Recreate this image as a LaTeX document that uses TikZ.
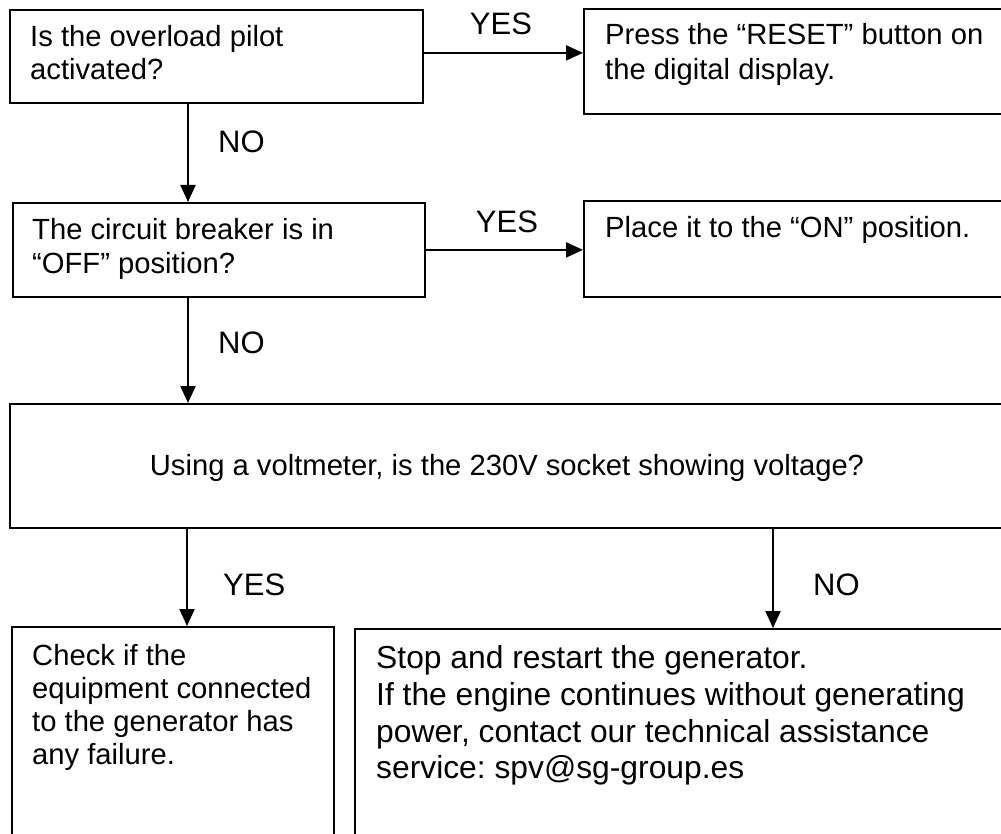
\documentclass[tikz,border=0pt]{standalone}
\usepackage{fontspec}
\setmainfont{Liberation Sans}
\usetikzlibrary{arrows.meta}
\frenchspacing
\tikzset{
  box/.style={draw=black, line width=1.8pt, rectangle, inner sep=0pt, anchor=north west},
  txt/.style={inner sep=0pt, anchor=base west, font=\fontsize{29.2}{33}\selectfont},
  big/.style={inner sep=0pt, anchor=base west, font=\fontsize{31.8}{37}\selectfont},
  lbl/.style={inner sep=0pt, anchor=base west, font=\fontsize{31}{36}\selectfont},
  arr/.style={line width=2.2pt, -{Triangle[length=17pt,width=15pt]}}
}
\begin{document}
\begin{tikzpicture}[x=1pt, y=-1pt]
\useasboundingbox (0,0) rectangle (1001,834);
\fill[white] (0,0) rectangle (1001,834);
\clip (0,0) rectangle (1001,834);

% boxes
\node[box, minimum width=413pt, minimum height=93pt] (A) at (9,9) {};
\node[box, minimum width=430pt, minimum height=105pt] (B) at (583,8) {};
\node[box, minimum width=412pt, minimum height=94pt] (C) at (12,202) {};
\node[box, minimum width=430pt, minimum height=96pt] (D) at (583,200) {};
\node[box, minimum width=1004pt, minimum height=124pt] (E) at (9,403) {};
\node[box, minimum width=322pt, minimum height=230pt] (F) at (11,626) {};
\node[box, minimum width=660pt, minimum height=230pt] (G) at (354,628) {};

% texts
\node[txt] (a1) at (30,47) {Is the overload pilot};
\node[txt] (a2) at (30,80) {activated?};
\node[txt] (b1) at (605,45) {Press the “RESET” button on};
\node[txt] (b2) at (605,80) {the digital display.};
\node[txt] (c1) at (32,240) {The circuit breaker is in};
\node[txt] (c2) at (32,273) {“OFF” position?};
\node[txt] (d1) at (605,238) {Place it to the “ON” position.};
\node[txt, anchor=base] (e1) at (507,475) {Using a voltmeter, is the 230V socket showing voltage?};
\node[txt] (f1) at (32,665) {Check if the};
\node[txt] (f2) at (32,698) {equipment connected};
\node[txt] (f3) at (32,731) {to the generator has};
\node[txt] (f4) at (32,764) {any failure.};
\node[big] (g1) at (376,668) {Stop and restart the generator.};
\node[big] (g2) at (376,705) {If the engine continues without generating};
\node[big] (g3) at (376,742) {power, contact our technical assistance};
\node[big] (g4) at (376,778) {service: spv@sg-group.es};

% connectors
\draw[arr] ([yshift=3.5pt]A.east) -- ([yshift=8.5pt]B.west);
\draw[arr] ([xshift=179pt]A.south west) -- ([xshift=176pt]C.north west);
\draw[arr] ([yshift=0pt]C.east) -- ([yshift=-1pt]D.west);
\draw[arr] ([xshift=176pt]C.south west) -- ([xshift=179pt]E.north west);
\draw[arr] ([xshift=178pt]E.south west) -- ([xshift=176pt]F.north west);
\draw[arr] ([xshift=764pt]E.south west) -- ([xshift=419pt]G.north west);

% labels
\node[lbl, anchor=base] (y1) at (501,35) {YES};
\node[lbl] (n1) at (218,153) {NO};
\node[lbl, anchor=base] (y2) at (507,233) {YES};
\node[lbl] (n2) at (218,353) {NO};
\node[lbl] (y3) at (223,595) {YES};
\node[lbl] (n3) at (813,595) {NO};
\end{tikzpicture}
\end{document}
